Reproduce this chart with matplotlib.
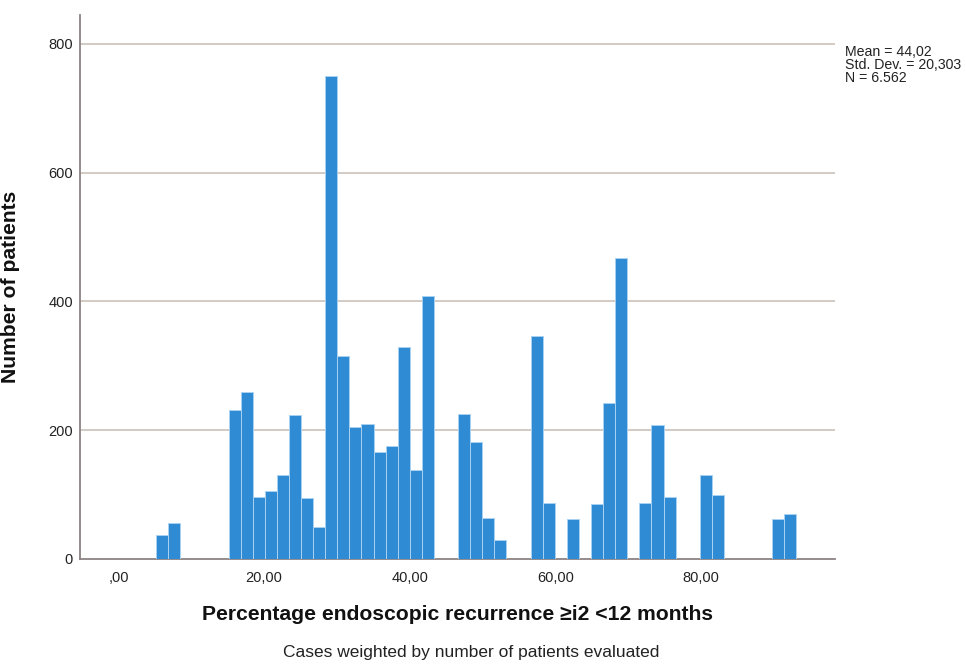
import matplotlib
matplotlib.use("Agg")
import matplotlib.pyplot as plt
from matplotlib import font_manager

# ---- data ----
bin_start = 5.15
bin_width = 1.66
counts = [37, 56, 0, 0, 0, 0, 231, 260, 96, 106, 130, 223, 95, 50,
          751, 315, 205, 209, 166, 175, 329, 138, 408, 0, 0, 225, 182,
          63, 29, 0, 0, 346, 87, 0, 62, 0, 86, 242, 467, 0, 87, 208, 97,
          0, 0, 131, 99, 0, 0, 0, 0, 62, 70]
x_ticks = [0, 20, 40, 60, 80]
x_ticklabels = [",00", "20,00", "40,00", "60,00", "80,00"]
y_ticks = [0, 200, 400, 600, 800]
y_ticklabels = ["0", "200", "400", "600", "800"]
stats_text = "Mean = 44,02\nStd. Dev. = 20,303\nN = 6.562"
xlabel = "Percentage endoscopic recurrence \u2265i2 <12 months"
ylabel = "Number of patients"
note = "Cases weighted by number of patients evaluated"

names = {f.name for f in font_manager.fontManager.ttflist}
base = "Liberation Sans" if "Liberation Sans" in names else "DejaVu Sans"
plt.rcParams['font.family'] = [base, 'DejaVu Sans']

fig = plt.figure(figsize=(9.66, 6.66), dpi=100)
ax = fig.add_axes([80/966, 1-559/666, (835-80)/966, (559-15)/666])

lefts = [bin_start + i*bin_width for i, c in enumerate(counts) if c > 0]
heights = [c for c in counts if c > 0]
ax.bar(lefts, heights, width=bin_width, align='edge', color='#2f8bd4',
       edgecolor='#a9d2f2', linewidth=0.7, zorder=3)

ax.set_xlim(-5.29, 98.42)
ax.set_ylim(0, 845)
for y in y_ticks[1:]:
    ax.axhline(y, color='#cfc7c0', linewidth=1.3, zorder=1)

ax.set_xticks(x_ticks)
ax.set_xticklabels(x_ticklabels)
ax.set_yticks(y_ticks)
ax.set_yticklabels(y_ticklabels)
ax.tick_params(axis='both', length=0, labelsize=10.5, colors='#222222')
ax.tick_params(axis='x', pad=9)
ax.tick_params(axis='y', pad=5)

for s in ['top', 'right']:
    ax.spines[s].set_visible(False)
for s in ['left', 'bottom']:
    ax.spines[s].set_color('#8c8484')
    ax.spines[s].set_linewidth(1.3)

ax.set_xlabel(xlabel, fontsize=15.2, fontweight='bold', labelpad=14, color='#111111')
ax.set_ylabel(ylabel, fontsize=15.2, fontweight='bold', color='#111111')
ax.yaxis.set_label_coords((20-80)/755, 0.5)

fig.text(845/966, 1-45/666, stats_text, fontsize=10.2, va='top', ha='left',
         linespacing=0.92, color='#222222')
fig.text(471/966, 1-652/666, note, fontsize=12.5, ha='center', va='center',
         color='#222222')

fig.savefig("out.png", dpi=100)
